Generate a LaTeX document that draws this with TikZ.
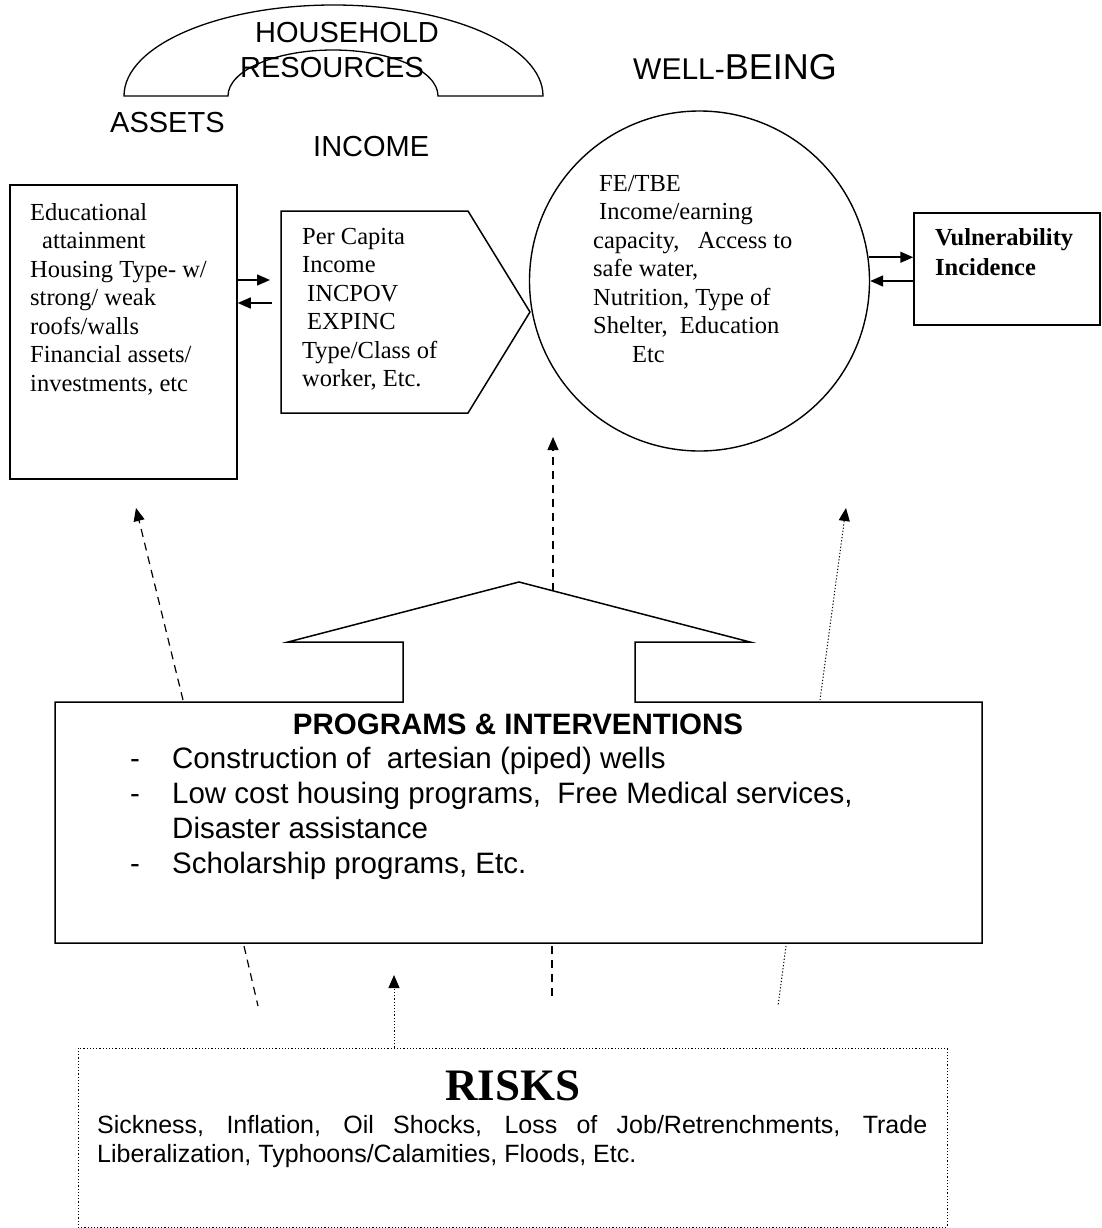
\documentclass[tikz,border=0pt]{standalone}
\usepackage{fontspec}
\setmainfont{Liberation Serif}
\setsansfont{Liberation Sans}
\usetikzlibrary{arrows.meta}
\begin{document}
\begin{tikzpicture}[x=1pt,y=-1pt,
  outline/.style={draw, line width=1.5pt},
  tip/.style={-{Triangle[length=13pt,width=11pt]}},
  link/.style={line width=1.5pt, tip},
  dashlink/.style={line width=1.2pt, dash pattern=on 8pt off 6pt},
  dotlink/.style={line width=1pt, dash pattern=on 1.2pt off 2pt},
  serif/.style={font=\fontsize{24.5}{28.5}\selectfont, inner sep=0pt, anchor=base west},
  label/.style={font=\sffamily\fontsize{29}{34}\selectfont, inner sep=0pt, anchor=base west},
  prog/.style={font=\sffamily\fontsize{29.5}{35}\selectfont, inner sep=0pt},
]
\path[use as bounding box] (0,0) rectangle (1102,1228);

% household resources arch
\draw[line width=1.3pt] (124,96) arc[start angle=180, end angle=360, x radius=209.5, y radius=91]
  -- (438,96) arc[start angle=0, end angle=-180, x radius=105, y radius=46] -- cycle;
\node[label] (hh) at (255,43) {HOUSEHOLD};
\node[label] (res) at (240,78) {RESOURCES};
\node[label] (assetslbl) at (110,132) {ASSETS};
\node[label] (incomelbl) at (313,157) {INCOME};
\node[inner sep=0pt, anchor=base west, font=\sffamily] (wblbl) at (633,80)
  {{\fontsize{30}{36}\selectfont WELL-}{\fontsize{36}{42}\selectfont BEING}};

% assets box
\node[outline, minimum width=227pt, minimum height=294pt, inner sep=0pt] (assets) at (123.5,332) {};
\node[serif] (assetstxt) at (30,220) {\begin{tabular}[t]{@{}l@{}}
Educational\\
\hspace*{12pt}attainment\\
Housing Type- w/\\
strong/ weak\\
roofs/walls\\
Financial assets/\\
investments, etc
\end{tabular}};

% income pentagon
\coordinate (incNW) at (281,211);
\coordinate (incNE) at (468,211);
\coordinate (incTip) at (530,312);
\coordinate (incSE) at (468,413);
\coordinate (incSW) at (281,413);
\draw[line width=1.5pt, line join=miter] (incNW) -- (incNE) -- (incTip) -- (incSE) -- (incSW) -- cycle;
\node[serif] (inctxt) at (302,244) {\begin{tabular}[t]{@{}l@{}}
Per Capita\\
Income\\
\hspace*{5pt}INCPOV\\
\hspace*{5pt}EXPINC\\
Type/Class of\\
worker, Etc.
\end{tabular}};

% well-being circle
\node[draw, line width=1.4pt, circle, minimum size=340pt, inner sep=0pt] (wb) at (699.5,281) {};
\node[serif] (wbtxt) at (593,191) {\begin{tabular}[t]{@{}l@{}}
\hspace*{6pt}FE/TBE\\
\hspace*{6pt}Income/earning\\
capacity,\ \ \ Access to\\
safe water,\\
Nutrition, Type of\\
Shelter,\ \ Education\\
\hspace*{39pt}Etc
\end{tabular}};

% vulnerability box
\node[outline, minimum width=186pt, minimum height=112pt, inner sep=0pt] (vul) at (1007,269) {};
\node[inner sep=0pt, anchor=base west, font=\bfseries\fontsize{24.5}{30}\selectfont] (vultxt) at (935,245)
  {\begin{tabular}[t]{@{}l@{}}Vulnerability\\Incidence\end{tabular}};

% two-way links
\coordinate (aInTip) at (270,280);
\coordinate (aOutEnd) at (272,303);
\draw[link] (assets.east |- aInTip) -- (aInTip);
\draw[link] (aOutEnd) -- (assets.east |- aOutEnd);
\draw[link] (wb.8) -- (vul.west |- wb.8);
\draw[link] (vul.west |- wb.east) -- (wb.east);

% programs & interventions box with upward arrow
\coordinate (pNW) at (55,702);
\coordinate (pNE) at (982,702);
\coordinate (apex) at (519,582);
\draw[line width=1.5pt, line join=miter] (pNW) -- (403,702) -- (403,642) -- (288,642) -- (apex)
  -- (750,642) -- (635,642) -- (635,702) -- (pNE) -- (982,943) -- (55,943) -- cycle;
\node[prog, anchor=base, font=\sffamily\bfseries\fontsize{29.5}{35}\selectfont] (progtitle) at (518,734)
  {PROGRAMS \& INTERVENTIONS};
\node[prog, anchor=base west] (proglist) at (130,768) {\begin{tabular}[t]{@{}p{42pt}@{}l@{}}
-&Construction of\ \ artesian (piped) wells\\
-&Low cost housing programs,\ \ Free Medical services,\\
&Disaster assistance\\
-&Scholarship programs, Etc.
\end{tabular}};

% influence of programs on the upper level
\coordinate (leftFoot) at (183,700);
\coordinate (leftHead) at (136,508);
\coordinate (midFoot) at (553,591);
\coordinate (midHead) at (553,437);
\coordinate (rightFoot) at (820,700);
\coordinate (rightHead) at (846,508);
\draw[dashlink, tip] (leftFoot) -- (leftHead);
\draw[dashlink, tip] (midFoot) -- (midHead);
\draw[dotlink, tip] (rightFoot) -- (rightHead);

% lines below the programs box
\coordinate (l1a) at (244,946);
\coordinate (l1b) at (258,1006);
\coordinate (l2a) at (552,946);
\coordinate (l2b) at (552,999);
\coordinate (l3a) at (786,946);
\coordinate (l3b) at (778,1006);
\draw[dashlink] (l1a) -- (l1b);
\draw[dashlink] (l2a) -- (l2b);
\draw[dotlink] (l3a) -- (l3b);

% risks box
\node[draw, dotlink, minimum width=869pt, minimum height=179pt, inner sep=0pt] (risks) at (512.5,1137.5) {};
\coordinate (riskHead) at (394,975);
\draw[dotlink, tip] (risks.north -| riskHead) -- (riskHead);
\node[inner sep=0pt, anchor=base, font=\bfseries\fontsize{45}{50}\selectfont] (riskstitle) at (513,1100) {RISKS};
\node[inner sep=0pt, anchor=base west, font=\sffamily\fontsize{25}{29}\selectfont] (riskstxt) at (97,1133)
  {\parbox[t]{830pt}{Sickness, Inflation, Oil Shocks, Loss of Job/Retrenchments, Trade\linebreak
  Liberalization, Typhoons/Calamities, Floods, Etc.}};
\end{tikzpicture}
\end{document}
